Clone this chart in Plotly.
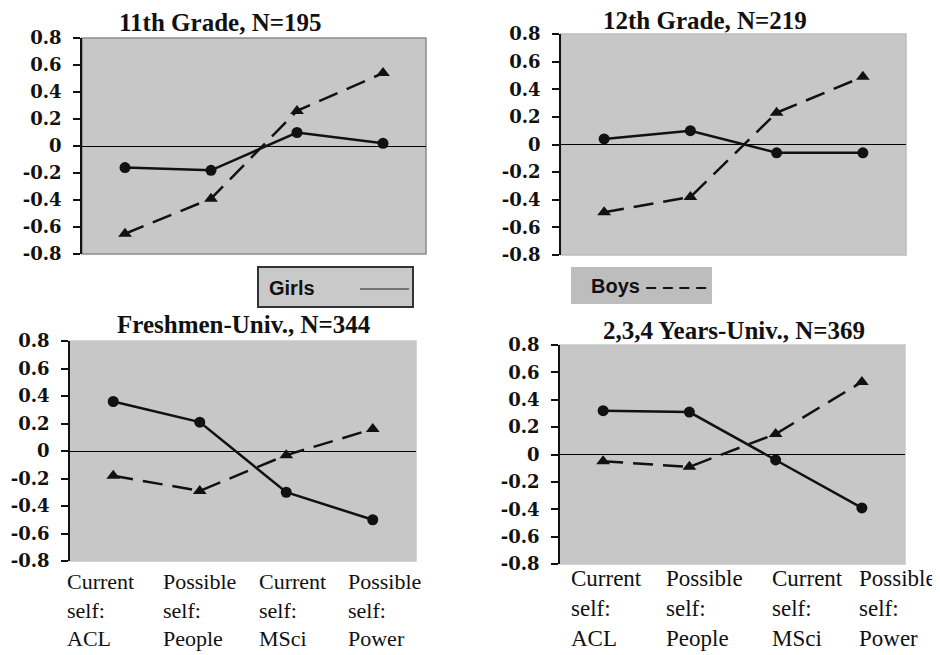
import plotly.graph_objects as go

# page is 940x655; the browser's default body margin puts the figure at (8, 8)
PAGE_W, PAGE_H = 940, 655
OFF = 8
W, H = PAGE_W - OFF, PAGE_H - OFF

categories = ["Current<br>self:<br>ACL", "Possible<br>self:<br>People",
              "Current<br>self:<br>MSci", "Possible<br>self:<br>Power"]
ytick_vals = [-0.8, -0.6, -0.4, -0.2, 0, 0.2, 0.4, 0.6, 0.8]
ytick_text = ["-0.8", "-0.6", "-0.4", "-0.2", "0", "0.2", "0.4", "0.6", "0.8"]

titles = ["11th Grade, N=195", "12th Grade, N=219",
          "Freshmen-Univ., N=344", "2,3,4 Years-Univ., N=369"]

girls_11 = [-0.16, -0.18, 0.10, 0.02]
boys_11 = [-0.65, -0.39, 0.26, 0.54]
girls_12 = [0.04, 0.10, -0.06, -0.06]
boys_12 = [-0.49, -0.38, 0.23, 0.49]
girls_fr = [0.36, 0.21, -0.30, -0.50]
boys_fr = [-0.18, -0.29, -0.03, 0.16]
girls_un = [0.32, 0.31, -0.04, -0.39]
boys_un = [-0.05, -0.09, 0.15, 0.53]

girls = [girls_11, girls_12, girls_fr, girls_un]
boys = [boys_11, boys_12, boys_fr, boys_un]


def px(x):
    return (x - OFF) / W


def py(y):
    return 1 - (y - OFF) / H


# panel plot-area boxes in page pixels: (left, right, top, bottom)
boxes = [(82, 426, 38, 254), (561, 906, 34, 255),
         (70, 416, 341, 561), (560, 905, 345, 564)]
title_pos = [(220, 23), (705, 20), (244, 325), (734, 330)]
border_cols = ["#8c8c8c", "#bdbdbd", "#c8c8c8", "#c8c8c8"]

serif = "'Liberation Serif', 'Times New Roman', Times, serif"
tickserif = "'DejaVu Serif', 'Liberation Serif', serif"
sans = "'Liberation Sans', Arial, sans-serif"

fig = go.Figure()
layout = dict(width=W, height=H, margin=dict(l=0, r=0, t=0, b=0, pad=0),
              autosize=False, template="none",
              paper_bgcolor="white", plot_bgcolor="rgba(0,0,0,0)", showlegend=False,
              font=dict(family=serif, color="#111"))
annotations = []
shapes = []

for i in range(4):
    n = "" if i == 0 else str(i + 1)
    xa, ya = "x" + n, "y" + n
    l, r, t, b = boxes[i]
    layout["xaxis" + n] = dict(
        domain=[px(l), px(r)], type="category", range=[-0.5, 3.5],
        showticklabels=False, showgrid=False, zeroline=False, ticks="",
        showline=False, anchor=ya, fixedrange=True, automargin=False)
    layout["yaxis" + n] = dict(
        domain=[py(b), py(t)], range=[-0.8, 0.8],
        tickvals=ytick_vals, ticktext=["<b>" + s + "</b>" for s in ytick_text],
        ticks="outside", ticklen=7, tickwidth=1.5, tickcolor="#111",
        showline=True, linecolor="#111", linewidth=1.5,
        showgrid=False, zeroline=True, zerolinecolor="#000", zerolinewidth=1,
        tickfont=dict(family=tickserif, size=18, color="#111"),
        ticklabelstandoff=8, anchor=xa, fixedrange=True, automargin=False)
    fig.add_trace(go.Scatter(
        x=categories, y=boys[i], xaxis=xa, yaxis=ya, mode="lines+markers",
        line=dict(color="#111", width=2.5, dash="20px,10px"),
        marker=dict(symbol="triangle-up", size=12, color="#111")))
    fig.add_trace(go.Scatter(
        x=categories, y=girls[i], xaxis=xa, yaxis=ya, mode="lines+markers",
        line=dict(color="#111", width=2.5),
        marker=dict(symbol="circle", size=11, color="#111")))
    shapes.append(dict(type="rect", xref=xa + " domain", yref=ya + " domain",
                       x0=0, x1=1, y0=0, y1=1, layer="below",
                       fillcolor="#c7c7c7",
                       line=dict(color=border_cols[i], width=1.5)))
    tx, ty = title_pos[i]
    annotations.append(dict(text="<b>" + titles[i] + "</b>", xref="paper", yref="paper",
                            x=px(tx), y=py(ty), xanchor="center", yanchor="middle",
                            showarrow=False,
                            font=dict(family=serif, size=25, color="#111")))

# category labels for the bottom panels
label_shifts = {3: [-48, -39, -29, -27], 4: [-34, -25, -6, -5]}
label_top = {3: 567, 4: 564}
label_size = {3: 22, 4: 23}
for p in (3, 4):
    n = str(p)
    for k, c in enumerate(categories):
        annotations.append(dict(text=c, xref="x" + n, yref="paper", x=c,
                                y=py(label_top[p]), xanchor="left", yanchor="top",
                                xshift=label_shifts[p][k], align="left", showarrow=False,
                                font=dict(family=serif, size=label_size[p], color="#111")))

# legend boxes
shapes.append(dict(type="rect", xref="paper", yref="paper",
                   x0=px(258), x1=px(413), y0=py(307), y1=py(267),
                   fillcolor="#c9c9c9", line=dict(color="#333", width=2)))
shapes.append(dict(type="line", xref="paper", yref="paper",
                   x0=px(360), x1=px(409), y0=py(289), y1=py(289),
                   line=dict(color="#222", width=1)))
annotations.append(dict(text="<b>Girls</b>", xref="paper", yref="paper",
                        x=px(267), y=py(288), xanchor="left", yanchor="middle",
                        showarrow=False, font=dict(family=sans, size=20, color="#111")))
shapes.append(dict(type="rect", xref="paper", yref="paper",
                   x0=px(571), x1=px(712), y0=py(304), y1=py(267),
                   fillcolor="#bdbdbd", line=dict(width=0)))
annotations.append(dict(text="<b>Boys – – – –</b>", xref="paper", yref="paper",
                        x=px(589), y=py(286), xanchor="left", yanchor="middle",
                        showarrow=False, font=dict(family=sans, size=20, color="#111")))

layout["annotations"] = annotations
layout["shapes"] = shapes
fig.update_layout(**layout)
fig.write_html("out.html")
